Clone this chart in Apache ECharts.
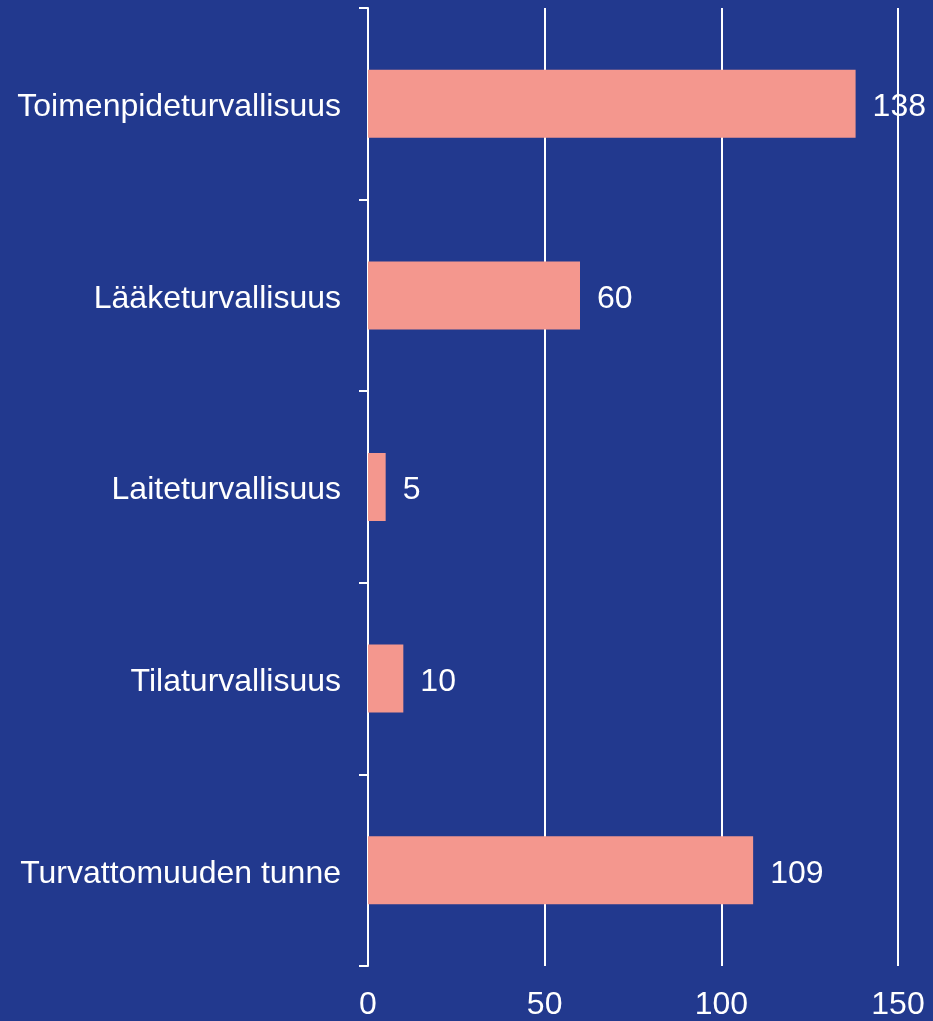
<!DOCTYPE html>
<html>
<head>
<meta charset="utf-8">
<script src="https://cdn.jsdelivr.net/npm/echarts@6/dist/echarts.min.js"></script>
<style>
  html, body { margin: 0; padding: 0; background: #22398e; }
  #chart { width: 933px; height: 1021px; }
</style>
</head>
<body>
<div id="chart"></div>
<script>
var categories = ['Toimenpideturvallisuus', 'Lääketurvallisuus', 'Laiteturvallisuus', 'Tilaturvallisuus', 'Turvattomuuden tunne'];
var values = [138, 60, 5, 10, 109];

var myChart = echarts.init(document.getElementById('chart'));

// shift text a few pixels down, like the original
var lowered = { t: { color: '#ffffff', fontSize: 32, padding: [7, 0, 0, 0] } };

var option = {
    backgroundColor: '#22398e',
    textStyle: { fontFamily: 'Liberation Sans, Arial, sans-serif' },
    grid: { left: 368, right: 35, top: 8, bottom: 52 },
    xAxis: {
        type: 'value',
        min: 0,
        max: 150,
        interval: 50,
        axisLine: { show: false },
        axisTick: { show: false },
        splitLine: { show: true, lineStyle: { color: '#ffffff', width: 2 } },
        axisLabel: { color: '#ffffff', fontSize: 32, margin: 23 }
    },
    yAxis: {
        type: 'category',
        inverse: true,
        data: categories,
        axisLine: { show: true, lineStyle: { color: '#ffffff', width: 2 } },
        axisTick: { show: true, length: 9, lineStyle: { color: '#ffffff', width: 2 } },
        axisLabel: {
            color: '#ffffff', fontSize: 32, margin: 27,
            formatter: '{t|{value}}',
            rich: lowered
        }
    },
    series: [
        {
            type: 'bar',
            data: values,
            barWidth: '35.5%',
            itemStyle: { color: '#f4978e' },
            label: {
                show: true,
                position: 'right',
                distance: 17,
                color: '#ffffff',
                fontSize: 32,
                formatter: '{t|{c}}',
                rich: lowered
            }
        }
    ]
};

myChart.setOption(option, true);
</script>
</body>
</html>
